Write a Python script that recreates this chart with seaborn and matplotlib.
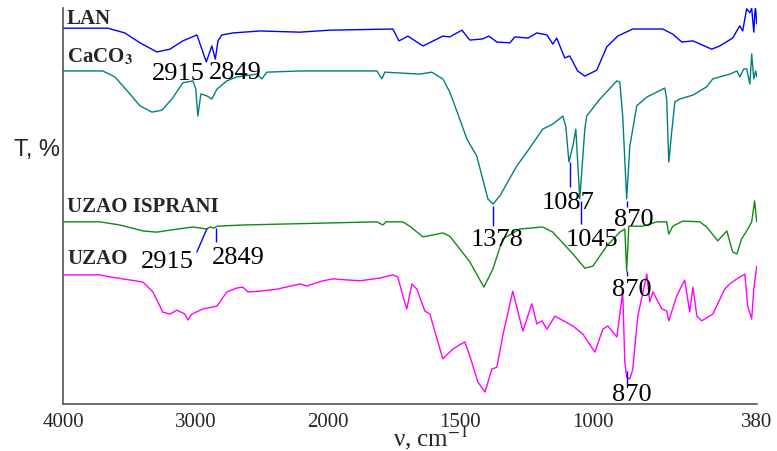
import numpy as np
import pandas as pd
import matplotlib
matplotlib.use("Agg")
import matplotlib.pyplot as plt
import seaborn as sns

# FTIR spectra (wavenumber, cm-1 / transmittance, arbitrary % scale)
lan_nu = [4000, 3661, 3533, 3419, 3291, 3193, 3095, 2989, 2918, 2876, 2850, 2830, 2800, 2717,
          2513, 2211, 1992, 1755, 1743, 1732, 1717, 1698, 1641, 1566, 1540, 1494, 1464, 1415,
          1392, 1362, 1313, 1294, 1245, 1211, 1173, 1151, 1136, 1106, 1087, 1057, 1030, 985,
          947, 906, 849, 736, 698, 664, 622, 551, 521, 472, 445, 434, 419, 407, 400, 392, 387,
          385, 381]
lan_t = [94.9, 94.9, 93.7, 91.2, 88.9, 89.6, 91.7, 93.2, 86.4, 90.4, 87.1, 91.7, 93.2, 93.7,
         94.2, 93.9, 94.4, 94.7, 93.2, 91.7, 92.2, 92.9, 90.4, 92.9, 92.7, 94.4, 91.9, 92.2,
         92.9, 91.4, 91.2, 92.7, 92.4, 93.7, 93.2, 90.9, 92.4, 87.4, 87.9, 84.1, 82.8, 84.3,
         90.2, 92.9, 94.7, 94.7, 93.4, 91.4, 91.7, 89.6, 90.4, 92.4, 95.5, 94.2, 99.8, 98.8,
         99.9, 93.9, 99.8, 99.8, 96.0]

caco3_nu = [4000, 3699, 3608, 3495, 3419, 3329, 3253, 3178, 3095, 3019, 2997, 2982, 2959, 2914,
            2876, 2838, 2763, 2687, 2536, 2498, 2461, 2211, 1815, 1796, 1785, 1653, 1608, 1566,
            1540, 1509, 1475, 1438, 1396, 1377, 1351, 1287, 1249, 1189, 1151, 1113, 1102, 1090,
            1075, 1064, 1049, 1030, 1023, 973, 909, 898, 887, 872, 860, 849, 834, 796, 728,
            721, 713, 702, 690, 672, 622, 570, 547, 483, 456, 445, 430, 419, 407, 400, 396,
            392, 385, 381]
caco3_t = [84.1, 84.1, 82.6, 78.3, 75.3, 73.7, 74.2, 77.0, 81.1, 81.6, 79.5, 72.7, 78.3, 77.8,
           77.0, 79.5, 81.6, 82.6, 83.3, 82.1, 83.8, 84.1, 84.1, 82.1, 83.8, 83.3, 83.8, 82.1,
           78.8, 73.2, 66.9, 62.6, 51.8, 50.5, 52.5, 60.1, 63.6, 69.4, 70.7, 72.7, 70.2, 61.1,
           65.2, 69.4, 51.8, 69.4, 72.7, 77.0, 81.6, 81.3, 72.7, 51.8, 65.2, 69.4, 75.3, 77.5,
           79.8, 77.0, 61.1, 68.7, 76.3, 77.0, 78.0, 80.1, 82.1, 83.3, 84.1, 82.6, 84.6, 84.6,
           80.8, 88.4, 85.0, 82.1, 84.1, 82.6]

isprani_nu = [4000, 3721, 3570, 3397, 3291, 3193, 3019, 2914, 2891, 2861, 2838, 2642, 2264, 1815,
              1792, 1781, 1717, 1691, 1641, 1566, 1540, 1464, 1411, 1377, 1340, 1275, 1189, 1151,
              1075, 1030, 1000, 947, 898, 879, 872, 864, 811, 758, 721, 713, 698, 660, 596, 570,
              528, 494, 472, 456, 438, 419, 400, 389, 381]
isprani_t = [46.0, 46.0, 45.2, 43.7, 43.4, 43.9, 44.7, 44.2, 44.7, 44.4, 44.9, 45.2, 45.5, 46.0,
             45.2, 46.0, 46.0, 44.9, 42.2, 43.2, 42.4, 35.9, 29.5, 34.1, 41.7, 44.2, 44.7, 43.4,
             37.9, 34.3, 34.8, 39.9, 43.4, 44.2, 33.6, 44.9, 44.9, 46.0, 46.0, 42.9, 44.9, 46.2,
             46.0, 44.7, 41.2, 43.7, 38.4, 37.9, 41.7, 43.7, 46.0, 51.3, 46.0]

uzao_nu = [4000, 3721, 3646, 3397, 3321, 3246, 3193, 3140, 3080, 3057, 3027, 2944, 2838, 2763,
           2687, 2642, 2604, 2513, 2385, 2211, 2159, 2038, 1981, 1879, 1804, 1755, 1736, 1717,
           1702, 1683, 1664, 1634, 1615, 1566, 1528, 1483, 1464, 1434, 1407, 1381, 1362, 1340,
           1302, 1264, 1230, 1211, 1192, 1173, 1143, 1075, 1038, 992, 962, 943, 909, 887, 879,
           872, 860, 849, 830, 796, 785, 773, 739, 721, 713, 683, 653, 634, 622, 607, 589, 547,
           502, 483, 456, 426, 415, 400, 392, 381]
uzao_t = [32.6, 32.6, 32.1, 30.8, 28.3, 23.2, 22.7, 23.7, 22.7, 21.2, 22.7, 24.0, 24.7, 28.3,
          29.3, 29.5, 28.3, 28.5, 29.0, 30.3, 29.8, 31.1, 31.6, 31.1, 31.8, 32.6, 32.1, 27.3,
          24.0, 30.3, 29.0, 23.5, 22.7, 11.4, 13.9, 15.7, 12.1, 5.6, 3.0, 8.8, 9.3, 17.2,
          28.5, 18.4, 25.3, 20.2, 21.0, 18.9, 22.2, 19.7, 17.7, 13.1, 18.9, 19.7, 16.9, 28.3,
          10.6, 6.8, 6.3, 8.8, 22.2, 32.8, 25.8, 28.3, 24.0, 23.5, 21.0, 27.3, 31.3, 23.2,
          29.5, 22.2, 21.0, 22.7, 29.0, 30.3, 31.6, 32.8, 24.7, 21.5, 29.0, 34.8]

names = ["LAN", "CaCO3", "UZAO ISPRANI", "UZAO"]
colors = ["#0000ff", "#008080", "#138a13", "#ff00ff"]

# peak marker lines (blue ticks under the bands)
mark_nu = [1378, 1087, 1045, 870, 870, 870, 2846]
mark_lo = [44.9, 54.8, 45.5, 49.7, 32.3, 4.5, 40.9]
mark_hi = [50.0, 61.1, 51.3, 51.3, 33.6, 8.3, 44.4]
slant_nu = [2914, 2989]
slant_t = [44.2, 38.4]

# peak labels
peak_txt = ["2915", "2849", "2915", "2849", "1378", "1087", "1045", "870", "870", "870"]
peak_nu = [3132, 2702, 3212, 2680, 1362, 1092, 1004, 845, 851, 851]
peak_t = [83.6, 83.8, 36.1, 37.1, 41.7, 51.1, 41.7, 46.7, 29.0, 2.5]

label_txt = ["LAN", r"CaCO$_\mathbf{3}$", "UZAO ISPRANI", "UZAO"]
label_t = [97.5, 87.9, 50.0, 36.9]

frames = []
for n, nu, t in zip(names, [lan_nu, caco3_nu, isprani_nu, uzao_nu],
                    [lan_t, caco3_t, isprani_t, uzao_t]):
    frames.append(pd.DataFrame({"nu": nu, "T": t, "sample": n}))
df = pd.concat(frames, ignore_index=True)

sns.set_style("white")
plt.rcParams["font.family"] = ["Liberation Serif", "DejaVu Serif"]
plt.rcParams["mathtext.fontset"] = "stix"

fig = plt.figure(figsize=(7.77, 4.52), dpi=100)
ax = fig.add_axes([63 / 777, 47 / 452, 694 / 777, 396 / 452])

sns.lineplot(data=df, x="nu", y="T", hue="sample", hue_order=names,
             palette=dict(zip(names, colors)), estimator=None, sort=False,
             linewidth=1.0, legend=False, ax=ax)

ax.vlines(mark_nu, mark_lo, mark_hi, color="#0000ff", linewidth=1.0)
ax.plot(slant_nu, slant_t, color="#0000ff", linewidth=1.0)


def fwd(x):
    x = np.asarray(x, dtype=float)
    return np.where(x > 2000, 2000 + (x - 2000) / 2, x)


def inv(u):
    u = np.asarray(u, dtype=float)
    return np.where(u > 2000, 2000 + 2 * (u - 2000), u)


ax.set_xscale("function", functions=(fwd, inv))
ax.set_xlim(4000, 380)
ax.set_ylim(0, 100)

ax.set_xticks([4000, 3000, 2000, 1500, 1000, 500, 380])
ax.set_xticklabels(["4000", "3000", "2000", "1500", "1000", "", "380"], fontsize=15)
ax.set_yticks(np.arange(0, 101, 10))
ax.set_yticklabels([])
ax.minorticks_off()
ax.tick_params(axis="x", direction="in", length=3, width=1, color="#555555", pad=6)
ax.tick_params(axis="y", direction="out", length=3, width=1, color="#555555")
ax.set_xlabel("")
ax.set_ylabel("")

sns.despine(ax=ax)
for s in ["left", "bottom"]:
    ax.spines[s].set_color("#555555")
    ax.spines[s].set_linewidth(1.2)

for txt, x, y in zip(peak_txt, peak_nu, peak_t):
    ax.text(x, y, txt, fontsize=19, ha="center", va="center", color="black")

for txt, y in zip(label_txt, label_t):
    ax.text(3970, y, txt, fontsize=15, fontweight="bold", ha="left", va="center")

fig.text(37 / 777, 1 - 150 / 452, "T, %", fontsize=17, family="Liberation Sans",
         ha="center", va="center")
fig.text(431 / 777, 1 - 438 / 452, r"ν, cm$^{-1}$", fontsize=18, ha="center", va="center")

fig.savefig("out.png", dpi=100)
